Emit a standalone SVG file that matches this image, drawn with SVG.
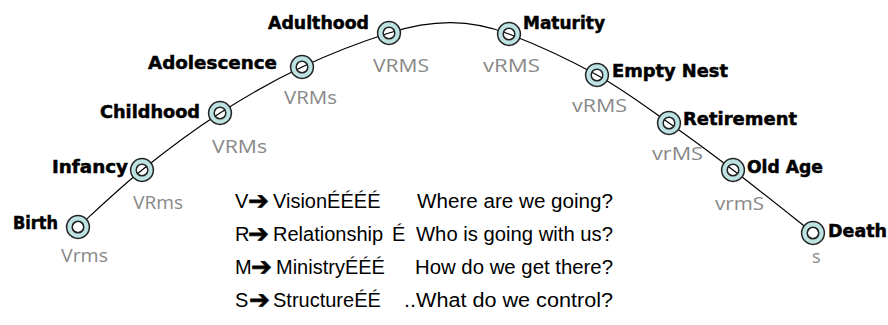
<svg xmlns="http://www.w3.org/2000/svg" width="888" height="325" viewBox="0 0 888 325">
<style>
.ring{fill:none;stroke:#bde2e2;stroke-width:5.6}
.edge{fill:none;stroke:#222;stroke-width:1.5}
.hole{fill:#fff;stroke:#222;stroke-width:1.5}
.lbl{font-family:"DejaVu Sans",sans-serif;font-weight:bold;font-size:17.5px;fill:#000;stroke:#000;stroke-width:0.5}
.sub{font-family:"Open Sans","DejaVu Sans",sans-serif;font-size:18px;fill:#888}
.txt{font-family:"Liberation Sans","DejaVu Sans",sans-serif;font-size:20px;fill:#000}
.arr{font-family:"DejaVu Sans",sans-serif;font-size:25px;fill:#000;stroke:#000;stroke-width:0.6}
.curve{fill:none;stroke:#000;stroke-width:1.2}
</style>
<defs>
<g id="node">
<circle r="8.6" class="ring"/>
<circle r="11.4" class="edge"/>
<circle r="5.8" class="edge"/>
</g>
</defs>
<rect width="888" height="325" fill="#fff"/>
<g id="connectors">
<path class="curve" d="M78,227 C88.7,217.5 118.3,189 142,170 C165.7,151 193.3,130.2 220,113 C246.7,95.8 273.8,80.3 302,67 C330.2,53.7 358.2,42.8 389,33 C433,19 470,19 509,34 C540,46 570.3,60.2 597,75 C623.7,89.8 646.3,107.2 669,123 C691.7,138.8 709,151.7 733,170 C757,188.3 799.7,222.5 813,233"/>
</g>
<g id="birth">
<circle cx="78" cy="227" r="5.8" class="hole"/>
<use href="#node" x="78" y="227"/>
<text class="lbl" x="13" y="229" textLength="45" lengthAdjust="spacingAndGlyphs">Birth</text>
<text class="sub" x="61" y="262" textLength="47" lengthAdjust="spacingAndGlyphs">Vrms</text>
</g>
<g id="infancy">
<use href="#node" x="142" y="170"/>
<text class="lbl" x="52" y="173" textLength="76" lengthAdjust="spacingAndGlyphs">Infancy</text>
<text class="sub" x="133" y="209" textLength="50" lengthAdjust="spacingAndGlyphs">VRms</text>
</g>
<g id="childhood">
<use href="#node" x="220" y="113"/>
<text class="lbl" x="100" y="118" textLength="100" lengthAdjust="spacingAndGlyphs">Childhood</text>
<text class="sub" x="212" y="153" textLength="55" lengthAdjust="spacingAndGlyphs">VRMs</text>
</g>
<g id="adolescence">
<use href="#node" x="302" y="67"/>
<text class="lbl" x="148" y="69" textLength="129" lengthAdjust="spacingAndGlyphs">Adolescence</text>
<text class="sub" x="284" y="104" textLength="53" lengthAdjust="spacingAndGlyphs">VRMs</text>
</g>
<g id="adulthood">
<use href="#node" x="389" y="33"/>
<text class="lbl" x="268" y="29" textLength="101" lengthAdjust="spacingAndGlyphs">Adulthood</text>
<text class="sub" x="373" y="72" textLength="56" lengthAdjust="spacingAndGlyphs">VRMS</text>
</g>
<g id="maturity">
<use href="#node" x="509" y="34"/>
<text class="lbl" x="523" y="29" textLength="82" lengthAdjust="spacingAndGlyphs">Maturity</text>
<text class="sub" x="483" y="72" textLength="57" lengthAdjust="spacingAndGlyphs">vRMS</text>
</g>
<g id="empty-nest">
<use href="#node" x="597" y="75"/>
<text class="lbl" x="612" y="77" textLength="116" lengthAdjust="spacingAndGlyphs">Empty Nest</text>
<text class="sub" x="572" y="112" textLength="55" lengthAdjust="spacingAndGlyphs">vRMS</text>
</g>
<g id="retirement">
<use href="#node" x="669" y="123"/>
<text class="lbl" x="683" y="125" textLength="114" lengthAdjust="spacingAndGlyphs">Retirement</text>
<text class="sub" x="652" y="160" textLength="51" lengthAdjust="spacingAndGlyphs">vrMS</text>
</g>
<g id="old-age">
<use href="#node" x="733" y="170"/>
<text class="lbl" x="747" y="173" textLength="76" lengthAdjust="spacingAndGlyphs">Old Age</text>
<text class="sub" x="715" y="210" textLength="49" lengthAdjust="spacingAndGlyphs">vrmS</text>
</g>
<g id="death">
<circle cx="813" cy="233" r="5.8" class="hole"/>
<use href="#node" x="813" y="233"/>
<text class="lbl" x="828" y="237" textLength="59" lengthAdjust="spacingAndGlyphs">Death</text>
<text class="sub" x="812" y="263">s</text>
</g>
<g id="legend">
<text class="txt" x="235" y="208">V</text>
<text class="arr" x="248" y="209">➔</text>
<text class="txt" x="273" y="208">VisionÉÉÉÉ</text>
<text class="txt" x="417" y="208" textLength="196" lengthAdjust="spacingAndGlyphs">Where are we going?</text>
<text class="txt" x="235" y="241">R</text>
<text class="arr" x="248" y="242">➔</text>
<text class="txt" x="273" y="241">Relationship</text>
<text class="txt" x="392" y="241">É</text>
<text class="txt" x="416" y="241" textLength="197" lengthAdjust="spacingAndGlyphs">Who is going with us?</text>
<text class="txt" x="235" y="274">M</text>
<text class="arr" x="251" y="275">➔</text>
<text class="txt" x="276" y="274">MinistryÉÉÉ</text>
<text class="txt" x="415" y="274" textLength="198" lengthAdjust="spacingAndGlyphs">How do we get there?</text>
<text class="txt" x="235" y="307">S</text>
<text class="arr" x="249" y="308">➔</text>
<text class="txt" x="273" y="307">StructureÉÉ</text>
<text class="txt" x="404" y="307" textLength="209" lengthAdjust="spacingAndGlyphs">..What do we control?</text>
</g>
</svg>
